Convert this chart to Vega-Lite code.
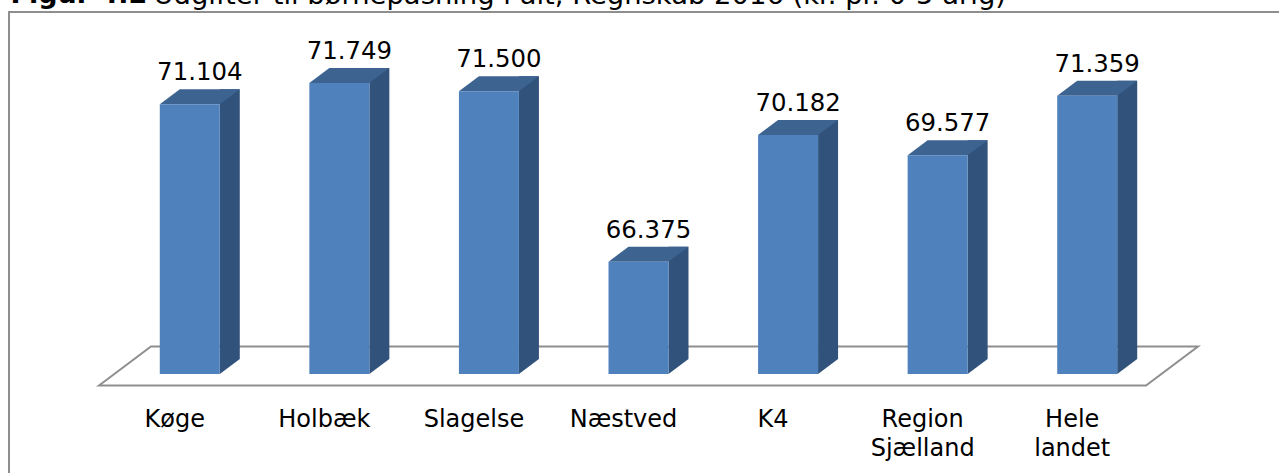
{
 "$schema":"https://vega.github.io/schema/vega-lite/v6.json",
 "autosize":"none","width":1047,"height":366,
 "padding":{"left":100,"top":19,"right":132,"bottom":88},
 "background":"white",
 "config":{"view":{"stroke":null},"locale":{"number":{"decimal":",","thousands":".","grouping":[3],"currency":["","kr"]}}},
 "data":{"values":[
  {"omraade":"Køge","udgift":71104},
  {"omraade":"Holbæk","udgift":71749},
  {"omraade":"Slagelse","udgift":71500},
  {"omraade":"Næstved","udgift":66375},
  {"omraade":"K4","udgift":70182},
  {"omraade":"Region Sjælland","udgift":69577},
  {"omraade":"Hele landet","udgift":71359}
 ]},
 "encoding":{
  "x":{"field":"omraade","type":"nominal","sort":["Køge","Holbæk","Slagelse","Næstved","K4","Region Sjælland","Hele landet"],"scale":{"domain":["Køge","Holbæk","Slagelse","Næstved","K4","Region Sjælland","Hele landet"],"paddingInner":0.6,"paddingOuter":0.3},
   "axis":{"title":"Udgifter til børnepasning i alt, Regnskab 2016 (kr. pr. 0-5 årig)","titleX":53,"titleY":-382,"titleAlign":"left","titleBaseline":"alphabetic","titleFont":"DejaVu Sans","titleFontSize":27.4,"titleFontWeight":"normal","titleColor":"#000000","titleAnchor":"start",
    "labelAngle":0,"labelFont":"DejaVu Sans","labelFontSize":24,"labelColor":"#000000","labelPadding":22,"labelBaseline":"top","labelLimit":140,"ticks":false,"domain":false,
    "labelExpr":"datum.label=='Region Sjælland'?['Region','Sjælland']:datum.label=='Hele landet'?['Hele','landet']:datum.label","labelLineHeight":29}},
  "y":{"field":"udgift","type":"quantitative","scale":{"domain":[63000,74000]},
   "axis":{"title":"Figur 4.2","titleX":-90,"titleY":-17,"titleAngle":0,"titleAlign":"left","titleBaseline":"alphabetic","titleFont":"DejaVu Sans","titleFontSize":27,"titleFontWeight":"bold","titleColor":"#000000","labels":false,"ticks":false,"domain":false,"grid":false}}
 },
 "layer":[
  {"data":{"values":[{"omraade":"Næstved","udgift":63000}]},"mark":{"type":"point","shape":"M-0.8764,0.1257 L-0.8764,-0.5329 L0.94,-0.5329","size":1960000,"fill":null,"filled":false,"stroke":"#8e8e8e","strokeWidth":2,"opacity":1,"xOffset":-1}},
  {"data":{"values":[{"omraade":"Næstved","udgift":63000}]},"mark":{"type":"point","shape":"M-1,0.0355 L-0.9054,-0.0355 L1,-0.0355 L0.9054,0.0355 Z","size":1207801,"fill":null,"filled":false,"stroke":"#8e8e8e","strokeWidth":2,"opacity":1,"xOffset":25,"yOffset":-19}},
  {"mark":{"type":"bar","width":20,"fill":"#31527a","xOffset":55,"yOffset":-26,"y2Offset":-26},"encoding":{"y2":{"datum":63000}}},
  {"mark":{"type":"point","shape":"M-0.5,-0.75 L0.5,-0.75 L-0.5,0 Z","size":1600,"filled":true,"fill":"#31527a","stroke":null,"opacity":1,"xOffset":55,"yOffset":-11},"encoding":{"y":{"datum":63000}}},
  {"mark":{"type":"point","shape":"M-0.6,0 L-0.2,-0.3 L1,-0.3 L0.6,0 Z","size":10000,"filled":true,"fill":"#3d6391","stroke":null,"opacity":1,"xOffset":15,"yOffset":-11}},
  {"mark":{"type":"bar","width":60,"fill":"#4f81bd","xOffset":15,"yOffset":-11,"y2Offset":-11},"encoding":{"y2":{"datum":63000}}},
  {"mark":{"type":"text","font":"DejaVu Sans","fontSize":24.4,"color":"#000000","xOffset":25,"yOffset":-35,"baseline":"alphabetic"},"encoding":{"text":{"field":"udgift","type":"quantitative","format":",.0f"}}}
 ]
}
